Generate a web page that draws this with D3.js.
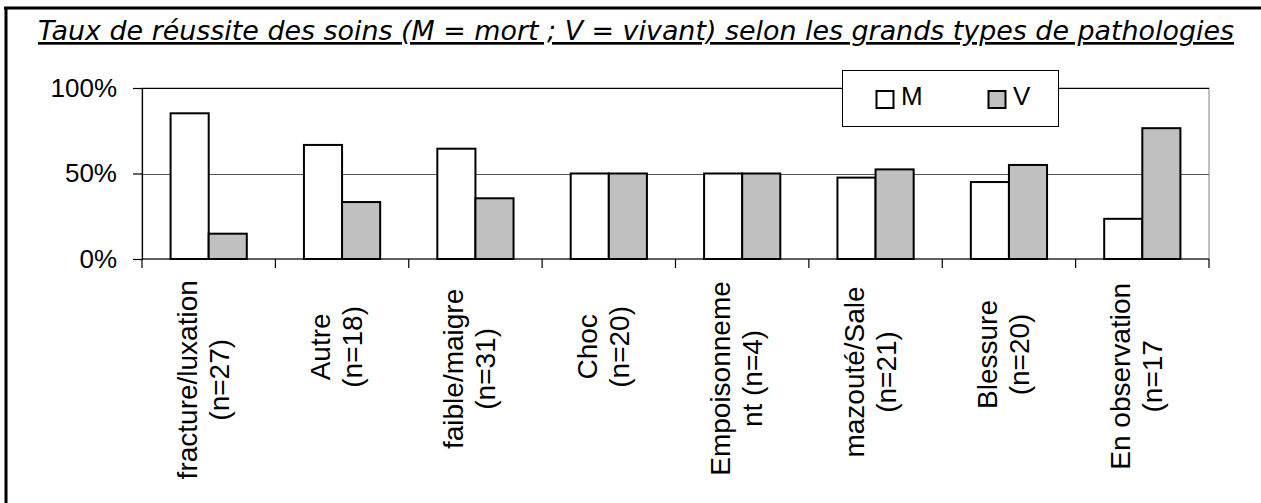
<!DOCTYPE html>
<html>
<head>
<meta charset="utf-8">
<script src="https://cdn.jsdelivr.net/npm/d3@7"></script>
<style>
  body { margin: 0; background: #fff; }
  svg { display: block; }
</style>
</head>
<body>
<div id="vis"></div>
<script>
var width = 1261;
var height = 503;

// categories, two lines each as in the original wrapped labels
var categoryLines = [
  ['fracture/luxation', '(n=27)'],
  ['Autre', '(n=18)'],
  ['faible/maigre', '(n=31)'],
  ['Choc', '(n=20)'],
  ['Empoisonneme', 'nt (n=4)'],
  ['mazouté/Sale', '(n=21)'],
  ['Blessure', '(n=20)'],
  ['En observation', '(n=17']
];
var seriesNames = ['M', 'V'];
var mortValues = [0.852, 0.667, 0.645, 0.50, 0.50, 0.476, 0.45, 0.235];
var vivantValues = [0.148, 0.333, 0.355, 0.50, 0.50, 0.524, 0.55, 0.765];
var yTicks = [0, 0.5, 1];
var titleText = 'Taux de réussite des soins (M = mort ; V = vivant) selon les grands types de pathologies';

var fillColor = { 'M': '#ffffff', 'V': '#c0c0c0' };

var plot = { left: 142, right: 1209, top: 88, bottom: 259 };
var axisFont = '"Liberation Sans", Arial, sans-serif';

var svg = d3.select('#vis')
  .append('svg')
  .attr('width', width)
  .attr('height', height);

// outer frame (only top and left edges show in the picture)
svg.append('line')
  .attr('x1', 4).attr('x2', width).attr('y1', 8).attr('y2', 8)
  .attr('stroke', '#000').attr('stroke-width', 3);
svg.append('line')
  .attr('x1', 6).attr('x2', 6).attr('y1', 7).attr('y2', height)
  .attr('stroke', '#000').attr('stroke-width', 3);

// title, fitted to the width it spans in the reference
var title = svg.append('text')
  .attr('x', 38)
  .attr('y', 40)
  .attr('font-family', '"DejaVu Sans", Verdana, sans-serif')
  .attr('font-style', 'italic')
  .attr('font-size', 22)
  .attr('text-decoration', 'underline')
  .attr('fill', '#000')
  .text(titleText);
var titleLen = title.node().getComputedTextLength();
title.attr('font-size', 22 * 1197 / titleLen);

var x = d3.scaleBand()
  .domain(d3.range(categoryLines.length))
  .range([plot.left, plot.right])
  .paddingInner(0)
  .paddingOuter(0);

// Excel gap width 150% -> two bars take 2 / 3.5 of the band
var xInner = d3.scaleBand()
  .domain(seriesNames)
  .range([x.bandwidth() * 0.75 / 3.5, x.bandwidth() - x.bandwidth() * 0.75 / 3.5]);

var y = d3.scaleLinear()
  .domain([0, 1])
  .range([plot.bottom, plot.top]);

// plot area border
svg.append('rect')
  .attr('x', plot.left)
  .attr('y', plot.top)
  .attr('width', plot.right - plot.left)
  .attr('height', plot.bottom - plot.top)
  .attr('fill', 'none')
  .attr('stroke', '#808080')
  .attr('stroke-width', 1);

// gridlines
svg.selectAll('.grid')
  .data(yTicks.filter(function (d) { return d > 0; }))
  .enter().append('line')
  .attr('class', 'grid')
  .attr('x1', plot.left)
  .attr('x2', plot.right)
  .attr('y1', function (d) { return Math.round(y(d)) + 0.5; })
  .attr('y2', function (d) { return Math.round(y(d)) + 0.5; })
  .attr('stroke', function (d) { return d === 1 ? '#000' : '#555'; })
  .attr('stroke-width', 1);

// bars
var rows = categoryLines.map(function (d, i) {
  return { i: i, values: [
    { key: 'M', value: mortValues[i] },
    { key: 'V', value: vivantValues[i] }
  ] };
});

var groups = svg.selectAll('.group')
  .data(rows)
  .enter().append('g')
  .attr('class', 'group')
  .attr('transform', function (d) { return 'translate(' + x(d.i) + ',0)'; });

groups.selectAll('rect')
  .data(function (d) { return d.values; })
  .enter().append('rect')
  .attr('x', function (d) { return xInner(d.key); })
  .attr('y', function (d) { return y(d.value); })
  .attr('width', xInner.bandwidth())
  .attr('height', function (d) { return y(0) - y(d.value); })
  .attr('fill', function (d) { return fillColor[d.key]; })
  .attr('stroke', '#000')
  .attr('stroke-width', 2);

// y axis
var yAxis = d3.axisLeft(y)
  .tickValues(yTicks)
  .tickSize(9)
  .tickPadding(16)
  .tickFormat(d3.format('.0%'));

var yAxisG = svg.append('g')
  .attr('transform', 'translate(' + plot.left + ',0)')
  .call(yAxis);
yAxisG.select('.domain').attr('stroke', '#000').attr('stroke-width', 1.2);
yAxisG.selectAll('.tick line').attr('stroke', '#000').attr('stroke-width', 1.2);
yAxisG.selectAll('.tick text')
  .attr('font-family', axisFont)
  .attr('font-size', 26)
  .attr('fill', '#000');

// x axis line with ticks at category boundaries
svg.append('line')
  .attr('x1', plot.left).attr('x2', plot.right)
  .attr('y1', plot.bottom).attr('y2', plot.bottom)
  .attr('stroke', '#000').attr('stroke-width', 1.2);

var boundaries = d3.range(categoryLines.length + 1).map(function (i) {
  return plot.left + i * x.step();
});
svg.selectAll('.xtick')
  .data(boundaries)
  .enter().append('line')
  .attr('class', 'xtick')
  .attr('x1', function (d) { return d; })
  .attr('x2', function (d) { return d; })
  .attr('y1', plot.bottom)
  .attr('y2', plot.bottom + 9)
  .attr('stroke', '#000')
  .attr('stroke-width', 1.2);

// rotated category labels, lines centred on each other
var labels = svg.selectAll('.xlabel')
  .data(categoryLines)
  .enter().append('g')
  .attr('class', 'xlabel');

labels.each(function (lines, i) {
  var g = d3.select(this);
  lines.forEach(function (line, k) {
    g.append('text')
      .attr('x', 0)
      .attr('y', k === 0 ? -12 : 20)
      .attr('text-anchor', 'middle')
      .attr('font-family', axisFont)
      .attr('font-size', 28)
      .attr('fill', '#000')
      .text(line);
  });
  var maxLen = d3.max(g.selectAll('text').nodes(), function (n) { return n.getComputedTextLength(); });
  var cy = 324 + 0.28 * maxLen;
  g.attr('transform', 'translate(' + (x(i) + x.bandwidth() / 2) + ',' + cy + ') rotate(-90)');
});

// legend
var legend = svg.append('g').attr('class', 'legend');
legend.append('rect')
  .attr('x', 842.5)
  .attr('y', 70.5)
  .attr('width', 216)
  .attr('height', 56)
  .attr('fill', '#fff')
  .attr('stroke', '#000')
  .attr('stroke-width', 1);

var legendX = { 'M': 876, 'V': 988 };
var items = legend.selectAll('.item')
  .data(seriesNames)
  .enter().append('g')
  .attr('class', 'item')
  .attr('transform', function (d) { return 'translate(' + legendX[d] + ',0)'; });

items.append('rect')
  .attr('x', 0.5)
  .attr('y', 91)
  .attr('width', 17)
  .attr('height', 17)
  .attr('fill', function (d) { return fillColor[d]; })
  .attr('stroke', '#000')
  .attr('stroke-width', 2);

items.append('text')
  .attr('x', 25)
  .attr('y', 105)
  .attr('font-family', axisFont)
  .attr('font-size', 26)
  .attr('fill', '#000')
  .text(function (d) { return d; });
</script>
</body>
</html>
